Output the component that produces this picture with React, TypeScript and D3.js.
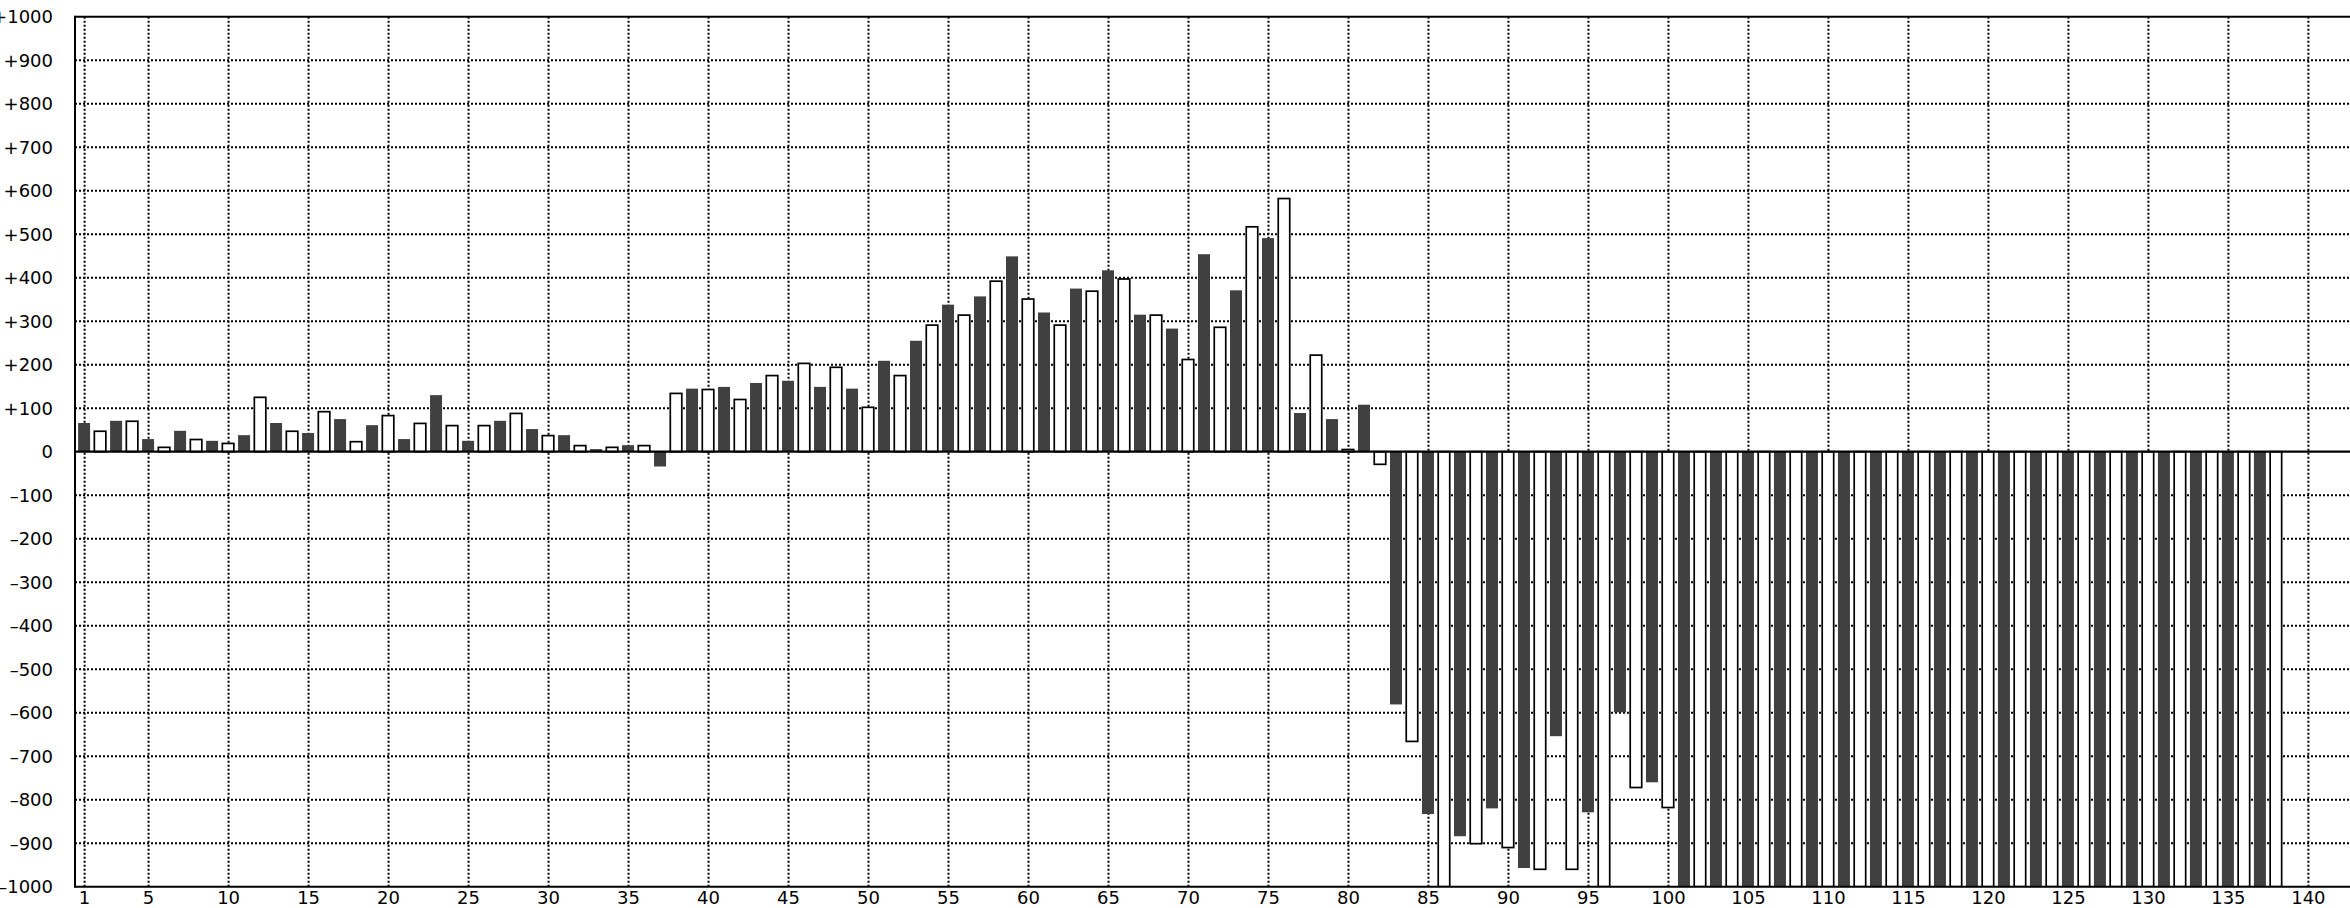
import React from 'react';
import * as d3 from 'd3';

// Bar values, categories 1..138 (odd = dark bars, even = white bars)
const values: number[] = [
  66, 47, 71, 70, 29, 10, 48, 28, 25, 19,
  38, 125, 66, 47, 43, 92, 75, 23, 61, 83,
  29, 65, 130, 60, 25, 60, 71, 88, 52, 37,
  38, 14, 6, 10, 15, 14, -34, 134, 145, 143,
  149, 120, 158, 175, 163, 203, 149, 194, 145, 102,
  209, 175, 255, 291, 338, 314, 357, 392, 449, 351,
  320, 291, 375, 369, 417, 397, 315, 314, 283, 212,
  454, 286, 371, 517, 491, 582, 89, 222, 75, 5,
  108, -29, -581, -666, -833, -1000, -884, -901, -820, -910,
  -957, -960, -654, -960, -829, -1000, -599, -772, -760, -818,
  -1000, -1000, -1000, -1000, -1000, -1000, -1000, -1000, -1000, -1000,
  -1000, -1000, -1000, -1000, -1000, -1000, -1000, -1000, -1000, -1000,
  -1000, -1000, -1000, -1000, -1000, -1000, -1000, -1000, -1000, -1000,
  -1000, -1000, -1000, -1000, -1000, -1000, -1000, -1000,
];
const categories: number[] = values.map((_, i) => i + 1);

const xTicks: number[] = [1, 5, 10, 15, 20, 25, 30, 35, 40, 45, 50, 55, 60, 65, 70, 75, 80, 85, 90, 95, 100, 105, 110, 115, 120, 125, 130, 135, 140];
const yTicks: number[] = [1000, 900, 800, 700, 600, 500, 400, 300, 200, 100, 0, -100, -200, -300, -400, -500, -600, -700, -800, -900, -1000];

const W = 2350;
const H = 908;

export default function App() {
  const left = 75;
  const top = 16.7;
  const bottom = 886.7;
  const x = d3.scaleLinear().domain([0.4, 142.6]).range([left, W]);
  const y = d3.scaleLinear().domain([-1000, 1000]).range([bottom, top]);
  const bw = 12;
  const fmt = (v: number) => (v > 0 ? `+${v}` : v < 0 ? `\u2013${-v}` : '0');
  const font = 'DejaVu Sans';

  return (
    <svg
      width={W}
      height={H}
      style={{ position: 'absolute', left: 0, top: 0, display: 'block', background: '#fff' }}
      fontFamily={font}
    >
      <defs>
        <clipPath id="plotclip">
          <rect x={left} y={top} width={W - left} height={bottom - top} />
        </clipPath>
      </defs>
      <rect x={0} y={0} width={W} height={H} fill="#fff" />
      {/* horizontal grid */}
      {yTicks
        .filter((v) => v !== 0 && Math.abs(v) !== 1000)
        .map((v) => (
          <line key={'hg' + v} x1={left} x2={W} y1={y(v)} y2={y(v)} stroke="#000" strokeWidth={2} strokeDasharray="2,2" />
        ))}
      {/* vertical grid */}
      {xTicks.map((v) => (
        <line key={'vg' + v} x1={x(v)} x2={x(v)} y1={top} y2={bottom} stroke="#000" strokeWidth={2} strokeDasharray="2,2" />
      ))}
      {/* bars */}
      <g clipPath="url(#plotclip)">
        {categories.map((c, i) => {
          const v = Math.max(-1000, values[i]);
          const y0 = y(0);
          const y1 = y(v);
          const yTop = Math.min(y0, y1);
          const h = Math.abs(y1 - y0);
          const cx = x(c) - 0.5;
          if (c % 2 === 1) {
            return <rect key={c} x={cx - bw / 2} y={yTop} width={bw} height={h} fill="#404040" />;
          }
          return (
            <rect key={c} x={cx - bw / 2 + 0.25} y={yTop} width={bw - 0.5} height={h} fill="#fff" stroke="#000" strokeWidth={1.7} />
          );
        })}
      </g>
      {/* zero line */}
      <line x1={left} x2={W} y1={y(0)} y2={y(0)} stroke="#000" strokeWidth={2.2} />
      {/* frame */}
      <line x1={left} x2={W} y1={top} y2={top} stroke="#000" strokeWidth={2} />
      <line x1={left} x2={W} y1={bottom} y2={bottom} stroke="#000" strokeWidth={2} />
      <line x1={left} x2={left} y1={top - 1} y2={bottom + 1} stroke="#000" strokeWidth={2} />
      {/* y labels */}
      {yTicks.map((v) => (
        <text key={'yl' + v} x={53} y={y(v) + 6.5} textAnchor="end" fontSize={18} fill="#000">
          {fmt(v)}
        </text>
      ))}
      {/* x labels */}
      {xTicks.map((v) => (
        <text key={'xl' + v} x={x(v)} y={903.5} textAnchor="middle" fontSize={18} fill="#000">
          {v}
        </text>
      ))}
    </svg>
  );
}
